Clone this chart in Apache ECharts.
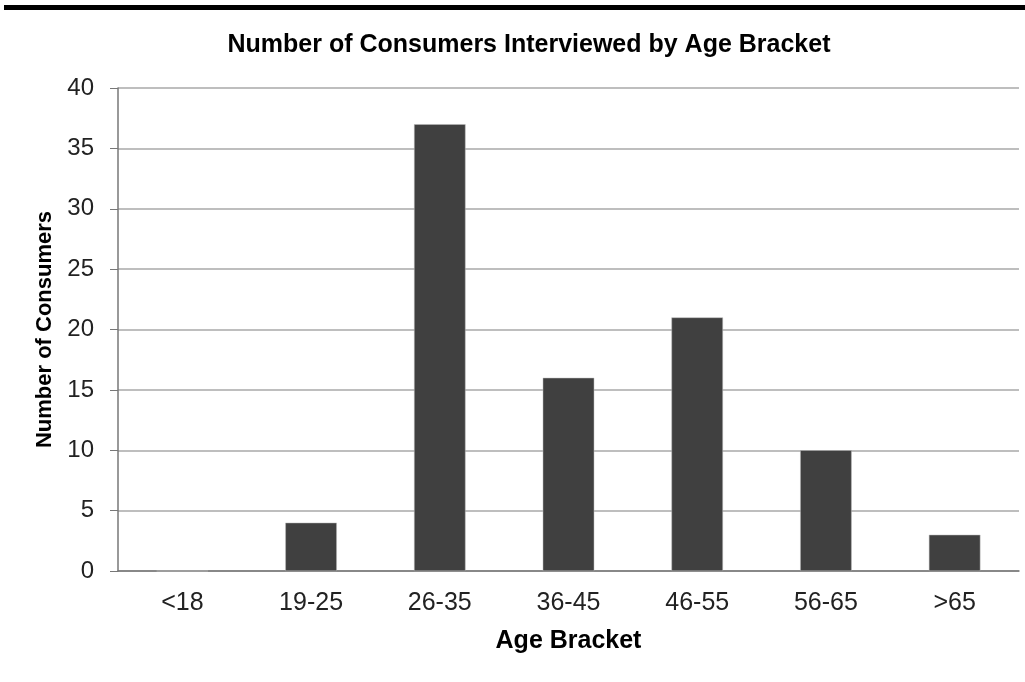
<!DOCTYPE html>
<html>
<head>
<meta charset="utf-8">
<script src="https://cdn.jsdelivr.net/npm/echarts@6/dist/echarts.min.js"></script>
<style>
  html, body { margin: 0; padding: 0; background: #fff; }
  #chart { width: 1025px; height: 682px; }
</style>
</head>
<body>
<div id="chart"></div>
<script>
const categories = ['<18', '19-25', '26-35', '36-45', '46-55', '56-65', '>65']
const consumers = [0, 4, 37, 16, 21, 10, 3]
const yTicks = { min: 0, max: 40, interval: 5 }

const font = '"Liberation Sans", Arial, sans-serif'

const chart = echarts.init(document.getElementById('chart'))
chart.setOption({
  animation: false,
  backgroundColor: '#fff',
  // thick rule across the top of the picture
  graphic: [{
    type: 'rect',
    shape: { x: 4, y: 5, width: 1021, height: 5 },
    style: { fill: '#000' },
  }],
  title: {
    text: 'Number of Consumers Interviewed by Age Bracket',
    left: 524,
    top: 28,
    textAlign: 'center',
    textStyle: { fontFamily: font, fontSize: 25, fontWeight: 'bold', color: '#000' },
  },
  grid: { left: 118, right: 6, top: 88, bottom: 111, containLabel: false },
  xAxis: {
    type: 'category',
    data: categories,
    name: 'Age Bracket',
    nameLocation: 'middle',
    nameGap: 58,
    nameTextStyle: { fontFamily: font, fontSize: 25, fontWeight: 'bold', color: '#000' },
    axisLine: { lineStyle: { color: '#777', width: 1.5 } },
    axisTick: { show: false },
    axisLabel: { fontFamily: font, fontSize: 25, color: '#222', margin: 20 },
  },
  yAxis: {
    type: 'value',
    min: yTicks.min,
    max: yTicks.max,
    interval: yTicks.interval,
    name: 'Number of Consumers',
    nameLocation: 'middle',
    nameGap: 58,
    nameTextStyle: { fontFamily: font, fontSize: 22, fontWeight: 'bold', color: '#000' },
    axisLine: { show: true, lineStyle: { color: '#777', width: 1.5 } },
    axisTick: { show: true, length: 8, lineStyle: { color: '#777' } },
    axisLabel: { fontFamily: font, fontSize: 24, color: '#222', margin: 24 },
    splitLine: { lineStyle: { color: '#a8a8a8', width: 1.5 } },
  },
  series: [{
    type: 'bar',
    data: consumers,
    barWidth: '40%',
    itemStyle: { color: '#404040', borderColor: '#bbb', borderWidth: 0.5 },
  }],
})
</script>
</body>
</html>
